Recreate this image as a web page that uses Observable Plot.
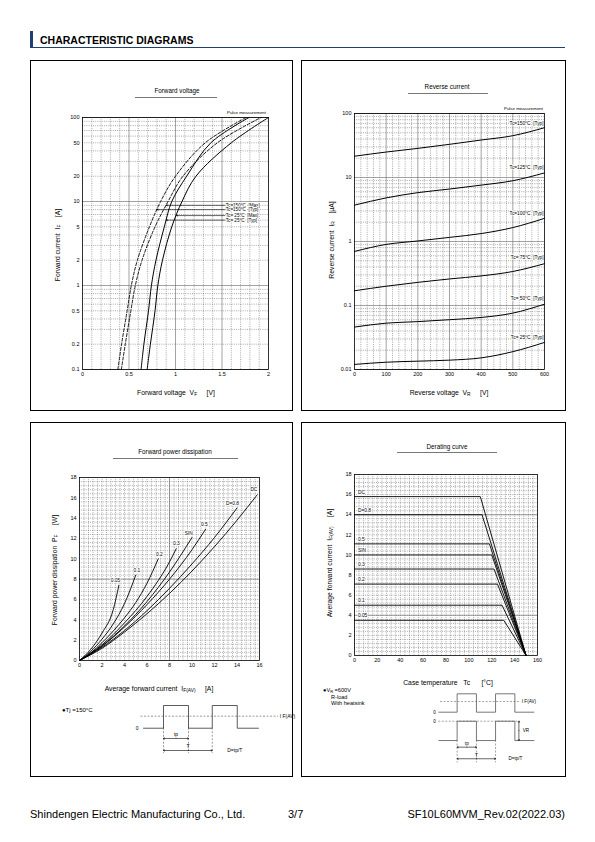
<!DOCTYPE html>
<html>
<head>
<meta charset="utf-8">
<script src="https://cdn.jsdelivr.net/npm/d3@7"></script>
<script src="https://cdn.jsdelivr.net/npm/@observablehq/plot@0.6"></script>
<style>
html,body{margin:0;padding:0;background:#fff;}
#page{position:relative;width:595px;height:842px;overflow:hidden;font-family:"Liberation Sans",Arial,Helvetica,sans-serif;color:#000;}
.t{position:absolute;white-space:nowrap;line-height:1;}
.c{transform:translate(-50%,-50%);}
.l{transform:translate(0,-50%);}
.r{transform:translate(-100%,-50%);}
.v{transform:translate(-50%,-50%) rotate(-90deg);}
.panel{position:absolute;border:1px solid #000;box-sizing:border-box;}
.ul{position:absolute;height:0;border-top:1px solid #777;}
sub{font-size:72%;vertical-align:-0.3em;line-height:0;}
svg.pa{position:absolute;overflow:visible;}
</style>
</head>
<body>
<div id="page"></div>
<script>
// ================= DATA =================
// Forward voltage: forward current IF [A] (rows) vs forward voltage VF [V]
const fvCurrents = [0.1, 0.2, 0.5, 1, 2, 5, 10, 20, 50, 100];
const fv150Typ = [0.38, 0.42, 0.48, 0.525, 0.59, 0.72, 0.84, 1.00, 1.32, 1.76];
const fv150Max = [0.418, 0.46, 0.52, 0.568, 0.64, 0.78, 0.92, 1.08, 1.45, 1.92];
const fv25Typ  = [0.63, 0.66, 0.71, 0.741, 0.79, 0.88, 0.96, 1.12, 1.38, 1.79];
const fv25Max  = [0.695, 0.73, 0.78, 0.81, 0.86, 0.96, 1.07, 1.22, 1.60, 2.00];
const fvLabels = ["Tc=150°C  [Max]", "Tc=150°C  [Typ]", "Tc= 25°C  [Max]", "Tc= 25°C  [Typ]"];
const fvLabelI = [9.0, 8.0, 6.8, 6.0];
const fvArrowTipV = [0.90, 0.80, 1.01, 0.90];
const fvLabelV = 1.53;
const fvTicksX = [0, 0.5, 1, 1.5, 2];
const fvTicksY = [0.1, 0.2, 0.5, 1, 2, 5, 10, 20, 50, 100];

// Reverse current: IR [uA] vs VR [V]
const rcVoltages = [0, 100, 200, 300, 400, 500, 600];
const rc150 = [21.5, 25, 28.5, 33, 38.5, 45, 60];
const rc125 = [3.7, 4.8, 5.8, 6.6, 7.6, 8.9, 11.8];
const rc100 = [0.70, 0.90, 1.02, 1.16, 1.33, 1.65, 2.3];
const rc75  = [0.17, 0.20, 0.23, 0.26, 0.29, 0.34, 0.45];
const rc50  = [0.046, 0.053, 0.056, 0.060, 0.065, 0.076, 0.105];
const rc25  = [0.012, 0.013, 0.0135, 0.014, 0.0152, 0.019, 0.0265];
const rcLabels = ["Tc=150°C  [Typ]", "Tc=125°C  [Typ]", "Tc=100°C  [Typ]", "Tc= 75°C  [Typ]", "Tc= 50°C  [Typ]", "Tc= 25°C  [Typ]"];
const rcLabelI = [70, 14.5, 2.75, 0.56, 0.127, 0.032];
const rcTicksX = [0, 100, 200, 300, 400, 500, 600];
const rcTicksY = [0.01, 0.1, 1, 10, 100];

// Forward power dissipation: PF [W] vs IF(AV) [A]
const pd005I = [0, 1, 2, 3, 3.5];            const pd005P = [0, 1.1, 2.7, 5.0, 7.4];
const pd01I  = [0, 1, 2, 3, 4, 5];           const pd01P  = [0, 0.9, 2.1, 3.6, 5.6, 8.4];
const pd02I  = [0, 1, 2, 3, 4, 5, 6, 7];     const pd02P  = [0, 0.75, 1.75, 2.9, 4.2, 5.7, 7.6, 10.0];
const pd03I  = [0, 2, 4, 6, 8, 8.6];         const pd03P  = [0, 1.55, 3.7, 6.3, 9.7, 11.0];
const pdSinI = [0, 2, 4, 6, 8, 10];          const pdSinP = [0, 1.45, 3.4, 5.8, 8.7, 12.1];
const pd05I  = [0, 2, 4, 6, 8, 10, 11.2];    const pd05P  = [0, 1.4, 3.3, 5.5, 8.0, 10.9, 12.9];
const pd08I  = [0, 2, 4, 6, 8, 10, 12, 14];  const pd08P  = [0, 1.3, 2.95, 4.9, 7.1, 9.5, 12.1, 15.0];
const pdDcI  = [0, 2, 4, 6, 8, 10, 12, 14, 15.8]; const pdDcP = [0, 1.2, 2.8, 4.6, 6.6, 8.8, 11.2, 13.8, 16.3];
const pdLabels = ["0.05", "0.1", "0.2", "0.3", "SIN", "0.5", "D=0.8", "DC"];
const pdLabelI = [3.2, 5.1, 7.1, 8.6, 9.7, 11.1, 13.6, 15.5];
const pdLabelP = [7.9, 8.9, 10.4, 11.5, 12.5, 13.4, 15.4, 16.8];
const pdTicksX = [0, 2, 4, 6, 8, 10, 12, 14, 16];
const pdTicksY = [0, 2, 4, 6, 8, 10, 12, 14, 16, 18];

// Derating curve: IF(AV) [A] vs Tc [°C]
const drLabels = ["DC", "D=0.8", "0.5", "SIN", "0.3", "0.2", "0.1", "0.05"];
const drLevel  = [15.8, 14.0, 11.1, 10.0, 8.6, 7.1, 5.0, 3.5];
const drKnee   = [110, 111.5, 118, 120, 122, 125, 129, 130.5];
const drZeroTc = 150;
const drTicksX = [0, 20, 40, 60, 80, 100, 120, 140, 160];
const drTicksY = [0, 2, 4, 6, 8, 10, 12, 14, 16, 18];

// Pulse schematics (time in units of tp)
const p3Time  = [0, 0.8, 0.8, 1.8, 1.8, 2.75, 2.75, 3.75, 3.75, 4.6];
const p3Level = [0, 0, 1, 1, 0, 0, 1, 1, 0, 0];
const p4Time  = [0, 0.95, 0.95, 1.95, 1.95, 2.94, 2.94, 3.94, 3.94, 4.93];
const p4Level = [0, 0, 1, 1, 0, 0, 1, 1, 0, 0];
const p4VLevel = [-1.54, -1.54, -0.49, -0.49, -1.54, -1.54, -0.49, -0.49, -1.54, -1.54];

// ================= HELPERS =================
const page = document.getElementById("page");
const FONT = '"Liberation Sans", Arial, sans-serif';
function txt(html, x, y, size, cls, extra) {
  const d = document.createElement("div");
  d.className = "t " + (cls || "");
  d.style.left = x + "px"; d.style.top = y + "px"; d.style.fontSize = size + "px";
  if (extra) Object.assign(d.style, extra);
  d.innerHTML = html;
  page.appendChild(d);
  return d;
}
function box(x, y, w, h, cls, extra) {
  const d = document.createElement("div");
  d.className = cls;
  Object.assign(d.style, {left: x + "px", top: y + "px", width: w + "px", height: h + "px"}, extra || {});
  page.appendChild(d);
  return d;
}
function mount(svg, left, top) {
  svg.classList.add("pa");
  svg.style.left = left + "px"; svg.style.top = top + "px";
  page.appendChild(svg);
}
const dot = {stroke: "#555", strokeWidth: 0.5, strokeDasharray: "1,1.2"};
const sol = {stroke: "#666", strokeWidth: 0.6};
const baseStyle = {fontFamily: FONT, fontSize: "5.5px", background: "transparent", color: "#000", overflow: "visible"};
const rows = (xs, ys, key) => xs.map((x, i) => ({x, y: ys[i], key}));
// tick labels drawn as text marks through the plot's scales
const tickX = (ticks) => Plot.text(ticks, {x: d => d, text: d => String(d), frameAnchor: "bottom", dy: 6, fontSize: 5.5});
const tickY = (ticks) => Plot.text(ticks, {y: d => d, text: d => String(d), frameAnchor: "left", textAnchor: "end", dx: -3, fontSize: 5.5});

// ================= PAGE FRAME =================
box(30, 31, 3, 16, "", {position: "absolute", background: "#1f3f73"});
box(30, 47, 535, 0, "", {position: "absolute", borderTop: "1px solid #1f3f73"});
txt("CHARACTERISTIC DIAGRAMS", 40, 39.5, 10.5, "l", {fontWeight: "bold"});
box(30, 60, 263, 351, "panel");
box(301, 60, 265, 351, "panel");
box(30, 422, 263, 355, "panel");
box(301, 422, 265, 355, "panel");
txt("Shindengen Electric Manufacturing Co., Ltd.", 30, 814, 11, "l");
txt("3/7", 288, 814, 11, "l");
txt("SF10L60MVM_Rev.02(2022.03)", 565, 814, 11, "r");

// ================= CHART 1: Forward voltage =================
{
  const fvRows = (vs, key) => vs.map((v, i) => ({v, i: fvCurrents[i], key}));
  const dashed = [...fvRows(fv150Max, "150Max"), ...fvRows(fv150Typ, "150Typ")];
  const solid = [...fvRows(fv25Max, "25Max"), ...fvRows(fv25Typ, "25Typ")];
  const gx = d3.range(1, 20).map(k => k / 10);
  const gy = d3.scaleLog().domain([0.1, 100]).ticks();
  const isDecade = d => Math.abs(Math.log10(d) - Math.round(Math.log10(d))) < 1e-6;
  const arrows = fvLabels.map((t, k) => ({t, i: fvLabelI[k], tip: fvArrowTipV[k], from: fvLabelV}));
  const svg = Plot.plot({
    width: 240, height: 285, marginLeft: 42, marginRight: 12, marginTop: 17, marginBottom: 16,
    style: baseStyle,
    x: {domain: [0, 2], axis: null}, y: {type: "log", domain: [0.1, 100], axis: null},
    marks: [
      Plot.ruleX(gx.filter(d => Math.abs(d * 2 - Math.round(d * 2)) > 1e-6), dot),
      Plot.ruleX(gx.filter(d => Math.abs(d * 2 - Math.round(d * 2)) <= 1e-6), sol),
      Plot.ruleY(gy.filter(d => !isDecade(d)), dot),
      Plot.ruleY(gy.filter(isDecade), sol),
      Plot.line(dashed, {x: "v", y: "i", z: "key", stroke: "#000", strokeWidth: 0.9, strokeDasharray: "3,1.8", curve: "catmull-rom"}),
      Plot.line(solid, {x: "v", y: "i", z: "key", stroke: "#000", strokeWidth: 1, curve: "catmull-rom"}),
      Plot.arrow(arrows, {x1: "from", y1: "i", x2: "tip", y2: "i", stroke: "#000", strokeWidth: 0.6, headLength: 3.5, headAngle: 45}),
      Plot.text(arrows, {x: "from", y: "i", text: "t", textAnchor: "start", dx: 1, fontSize: 4.6, stroke: "white", strokeWidth: 1.5, fill: "#000"}),
      Plot.frame({stroke: "#000", strokeWidth: 0.8}),
      tickX(fvTicksX), tickY(fvTicksY)
    ]
  });
  mount(svg, 40, 100);
  txt("Forward voltage", 177, 91, 6.3, "c");
  box(135, 96.5, 82, 0, "ul");
  txt("Pulse measurement", 266, 112.5, 4.4, "r");
  txt("Forward current&nbsp;&nbsp;I<sub>F</sub>&nbsp;&nbsp;&nbsp;&nbsp;[A]", 58, 245, 6.8, "v");
  txt("Forward voltage&nbsp;&nbsp;V<sub>F</sub>&nbsp;&nbsp;&nbsp;&nbsp;&nbsp;[V]", 176, 393, 6.8, "c");
}

// ================= CHART 2: Reverse current =================
{
  const all = [
    ...rows(rcVoltages, rc150, "150"), ...rows(rcVoltages, rc125, "125"), ...rows(rcVoltages, rc100, "100"),
    ...rows(rcVoltages, rc75, "75"), ...rows(rcVoltages, rc50, "50"), ...rows(rcVoltages, rc25, "25")
  ];
  const gx = d3.range(20, 600, 20);
  const gy = d3.scaleLog().domain([0.01, 100]).ticks();
  const isDecade = d => Math.abs(Math.log10(d) - Math.round(Math.log10(d))) < 1e-6;
  const labels = rcLabels.map((t, k) => ({t, i: rcLabelI[k], v: 597}));
  const svg = Plot.plot({
    width: 240, height: 285, marginLeft: 34, marginRight: 16, marginTop: 13, marginBottom: 16,
    style: baseStyle,
    x: {domain: [0, 600], axis: null}, y: {type: "log", domain: [0.01, 100], axis: null},
    marks: [
      Plot.ruleX(gx.filter(d => d % 100 !== 0), dot),
      Plot.ruleX(gx.filter(d => d % 100 === 0), sol),
      Plot.ruleY(gy.filter(d => !isDecade(d)), dot),
      Plot.ruleY(gy.filter(isDecade), sol),
      Plot.line(all, {x: "x", y: "y", z: "key", stroke: "#000", strokeWidth: 1, curve: "monotone-x"}),
      Plot.text(labels, {x: "v", y: "i", text: "t", textAnchor: "end", fontSize: 4.8, stroke: "white", strokeWidth: 1.5, fill: "#000"}),
      Plot.frame({stroke: "#000", strokeWidth: 0.8}),
      tickX(rcTicksX), tickY(rcTicksY)
    ]
  });
  mount(svg, 320, 100);
  txt("Reverse current", 447, 87, 6.3, "c");
  box(408, 92.5, 80, 0, "ul");
  txt("Pulse measurement", 543, 108.5, 4.4, "r");
  txt("Reverse current&nbsp;&nbsp;I<sub>R</sub>&nbsp;&nbsp;&nbsp;&nbsp;[μA]", 332, 240, 6.8, "v");
  txt("Reverse voltage&nbsp;&nbsp;V<sub>R</sub>&nbsp;&nbsp;&nbsp;&nbsp;&nbsp;[V]", 449, 393, 6.8, "c");
}

// ================= CHART 3: Forward power dissipation =================
{
  const all = [
    ...rows(pd005I, pd005P, "0.05"), ...rows(pd01I, pd01P, "0.1"), ...rows(pd02I, pd02P, "0.2"),
    ...rows(pd03I, pd03P, "0.3"), ...rows(pdSinI, pdSinP, "SIN"), ...rows(pd05I, pd05P, "0.5"),
    ...rows(pd08I, pd08P, "0.8"), ...rows(pdDcI, pdDcP, "DC")
  ];
  const gx = d3.range(1, 40).map(k => k * 0.4);
  const gy = d3.range(1, 45).map(k => k * 0.4);
  const labels = pdLabels.map((t, k) => ({t, x: pdLabelI[k], y: pdLabelP[k]}));
  const svg = Plot.plot({
    width: 220, height: 210, marginLeft: 24, marginRight: 16, marginTop: 12, marginBottom: 15,
    style: baseStyle,
    x: {domain: [0, 16], axis: null}, y: {domain: [0, 18], axis: null},
    marks: [
      Plot.ruleX(gx, dot),
      Plot.ruleY(gy, dot),
      Plot.ruleX([8], sol),
      Plot.ruleY([8], sol),
      Plot.line(all, {x: "x", y: "y", z: "key", stroke: "#000", strokeWidth: 0.9, curve: "monotone-x"}),
      Plot.text(labels, {x: "x", y: "y", text: "t", fontSize: 4.8, stroke: "white", strokeWidth: 1.5, fill: "#000"}),
      Plot.frame({stroke: "#000", strokeWidth: 0.8}),
      tickX(pdTicksX), tickY(pdTicksY)
    ]
  });
  mount(svg, 55, 465);
  txt("Forward power dissipation", 175, 451.5, 6.3, "c");
  box(113, 457.5, 125, 0, "ul");
  txt("Forward power dissipation&nbsp;&nbsp;P<sub>F</sub>&nbsp;&nbsp;&nbsp;&nbsp;&nbsp;[W]", 55, 570, 6.8, "v");
  txt("Average forward current&nbsp;&nbsp;I<sub>F(AV)</sub>&nbsp;&nbsp;&nbsp;&nbsp;&nbsp;[A]", 159, 689, 6.8, "c");
  txt("●Tj =150°C", 62, 710, 6, "l");

  // pulse schematic
  const wave = p3Time.map((t, k) => ({t, l: p3Level[k]}));
  const arr = [
    {a: 1.3, b: 0.8, y: -0.45}, {a: 1.3, b: 1.8, y: -0.45},
    {a: 1.78, b: 0.8, y: -0.98}, {a: 1.78, b: 2.75, y: -0.98}
  ];
  const notesS = [{t: 3.35, l: -0.98, s: "D=tp/T"}, {t: 5.45, l: 0.53, s: "I F(AV)"}];
  const notesM = [{t: 1.3, l: -0.28, s: "tp"}, {t: 1.78, l: -0.8, s: "T"}];
  const notesE = [{t: -0.2, l: 0, s: "0"}];
  const ps = Plot.plot({
    width: 165, height: 60, margin: 0,
    style: baseStyle,
    x: {domain: [-0.52, 6.08], axis: null}, y: {domain: [-1.42, 1.22], axis: null},
    marks: [
      Plot.ruleY([0.53], {x1: -0.1, x2: 5.4, stroke: "#555", strokeWidth: 0.6, strokeDasharray: "2,1.5"}),
      Plot.ruleX([0.8, 1.8, 2.75], {y1: 0, y2: -1.12, stroke: "#555", strokeWidth: 0.6, strokeDasharray: "2,1.5"}),
      Plot.line(wave, {x: "t", y: "l", stroke: "#333", strokeWidth: 0.8}),
      Plot.arrow(arr, {x1: "a", x2: "b", y1: "y", y2: "y", stroke: "#000", strokeWidth: 0.6, headLength: 3}),
      Plot.text(notesS, {x: "t", y: "l", text: "s", textAnchor: "start", fontSize: 5}),
      Plot.text(notesM, {x: "t", y: "l", text: "s", textAnchor: "middle", fontSize: 5}),
      Plot.text(notesE, {x: "t", y: "l", text: "s", textAnchor: "end", fontSize: 5})
    ]
  });
  mount(ps, 130, 700);
}

// ================= CHART 4: Derating curve =================
{
  const all = drLabels.flatMap((k, i) => [
    {x: 0, y: drLevel[i], key: k}, {x: drKnee[i], y: drLevel[i], key: k}, {x: drZeroTc, y: 0, key: k}
  ]);
  const gx = d3.range(1, 40).map(k => k * 4);
  const gy = d3.range(1, 45).map(k => k * 0.4);
  const labels = drLabels.map((t, k) => ({t, x: 3, y: drLevel[k] + 0.45}));
  const svg = Plot.plot({
    width: 225, height: 208, marginLeft: 24, marginRight: 18, marginTop: 12, marginBottom: 15,
    style: baseStyle,
    x: {domain: [0, 160], axis: null}, y: {domain: [0, 18], axis: null},
    marks: [
      Plot.ruleX(gx, dot),
      Plot.ruleY(gy, dot),
      Plot.ruleY([4, 14], sol),
      Plot.line(all, {x: "x", y: "y", z: "key", stroke: "#000", strokeWidth: 0.9}),
      Plot.text(labels, {x: "x", y: "y", text: "t", textAnchor: "start", fontSize: 4.8, stroke: "white", strokeWidth: 1.5, fill: "#000"}),
      Plot.frame({stroke: "#000", strokeWidth: 0.8}),
      tickX(drTicksX), tickY(drTicksY)
    ]
  });
  mount(svg, 330, 462);
  txt("Derating curve", 447, 446.5, 6.3, "c");
  box(397, 452, 100, 0, "ul");
  txt("Average forward current&nbsp;&nbsp;I<sub>F(AV)</sub>&nbsp;&nbsp;&nbsp;&nbsp;&nbsp;[A]", 330, 563, 6.8, "v");
  txt("Case temperature&nbsp;&nbsp;&nbsp;Tc&nbsp;&nbsp;&nbsp;&nbsp;&nbsp;&nbsp;[°C]", 448, 683, 6.8, "c");
  txt("●V<sub>R</sub> =600V", 323, 691, 5.6, "l");
  txt("R-load", 331, 697.5, 5.6, "l");
  txt("With heatsink", 331, 704, 5.6, "l");

  const waveI = p4Time.map((t, k) => ({t, l: p4Level[k]}));
  const waveV = p4Time.map((t, k) => ({t, l: p4VLevel[k]}));
  const arr = [
    {a: 1.45, b: 0.95, y: -1.9}, {a: 1.45, b: 1.95, y: -1.9},
    {a: 1.95, b: 0.95, y: -2.53}, {a: 1.95, b: 2.94, y: -2.53}
  ];
  const varr = [{x: 4.15, a: -1.0, b: -0.49}, {x: 4.15, a: -1.0, b: -1.54}];
  const notesS = [
    {t: 3.61, l: -2.52, s: "D=tp/T"}, {t: 4.3, l: 0.58, s: "I F(AV)"}, {t: 4.35, l: -1.0, s: "VR"}
  ];
  const notesM = [{t: 1.45, l: -1.72, s: "tp"}, {t: 1.95, l: -2.35, s: "T"}];
  const notesE = [{t: -0.15, l: 0, s: "0"}, {t: -0.15, l: -0.49, s: "0"}];
  const ps = Plot.plot({
    width: 120, height: 78, margin: 0,
    style: baseStyle,
    x: {domain: [-0.689, 5.528], axis: null}, y: {domain: [-2.951, 1.288], axis: null},
    marks: [
      Plot.ruleY([0.58], {x1: 0.09, x2: 4.23, stroke: "#666", strokeWidth: 0.6, strokeDasharray: "2,1.5"}),
      Plot.ruleY([-0.49], {x1: 0.0, x2: 4.23, stroke: "#666", strokeWidth: 0.6, strokeDasharray: "2,1.5"}),
      Plot.ruleX([0.95, 1.95, 2.94], {y1: -1.54, y2: -2.75, stroke: "#666", strokeWidth: 0.6, strokeDasharray: "2,1.5"}),
      Plot.line(waveI, {x: "t", y: "l", stroke: "#555", strokeWidth: 0.8}),
      Plot.line(waveV, {x: "t", y: "l", stroke: "#555", strokeWidth: 0.8}),
      Plot.arrow(arr, {x1: "a", x2: "b", y1: "y", y2: "y", stroke: "#000", strokeWidth: 0.6, headLength: 3}),
      Plot.arrow(varr, {x1: "x", x2: "x", y1: "a", y2: "b", stroke: "#000", strokeWidth: 0.6, headLength: 3}),
      Plot.text(notesS, {x: "t", y: "l", text: "s", textAnchor: "start", fontSize: 4.6}),
      Plot.text(notesM, {x: "t", y: "l", text: "s", textAnchor: "middle", fontSize: 4.6}),
      Plot.text(notesE, {x: "t", y: "l", text: "s", textAnchor: "end", fontSize: 4.6})
    ]
  });
  mount(ps, 425, 688);
}
</script>
</body>
</html>
